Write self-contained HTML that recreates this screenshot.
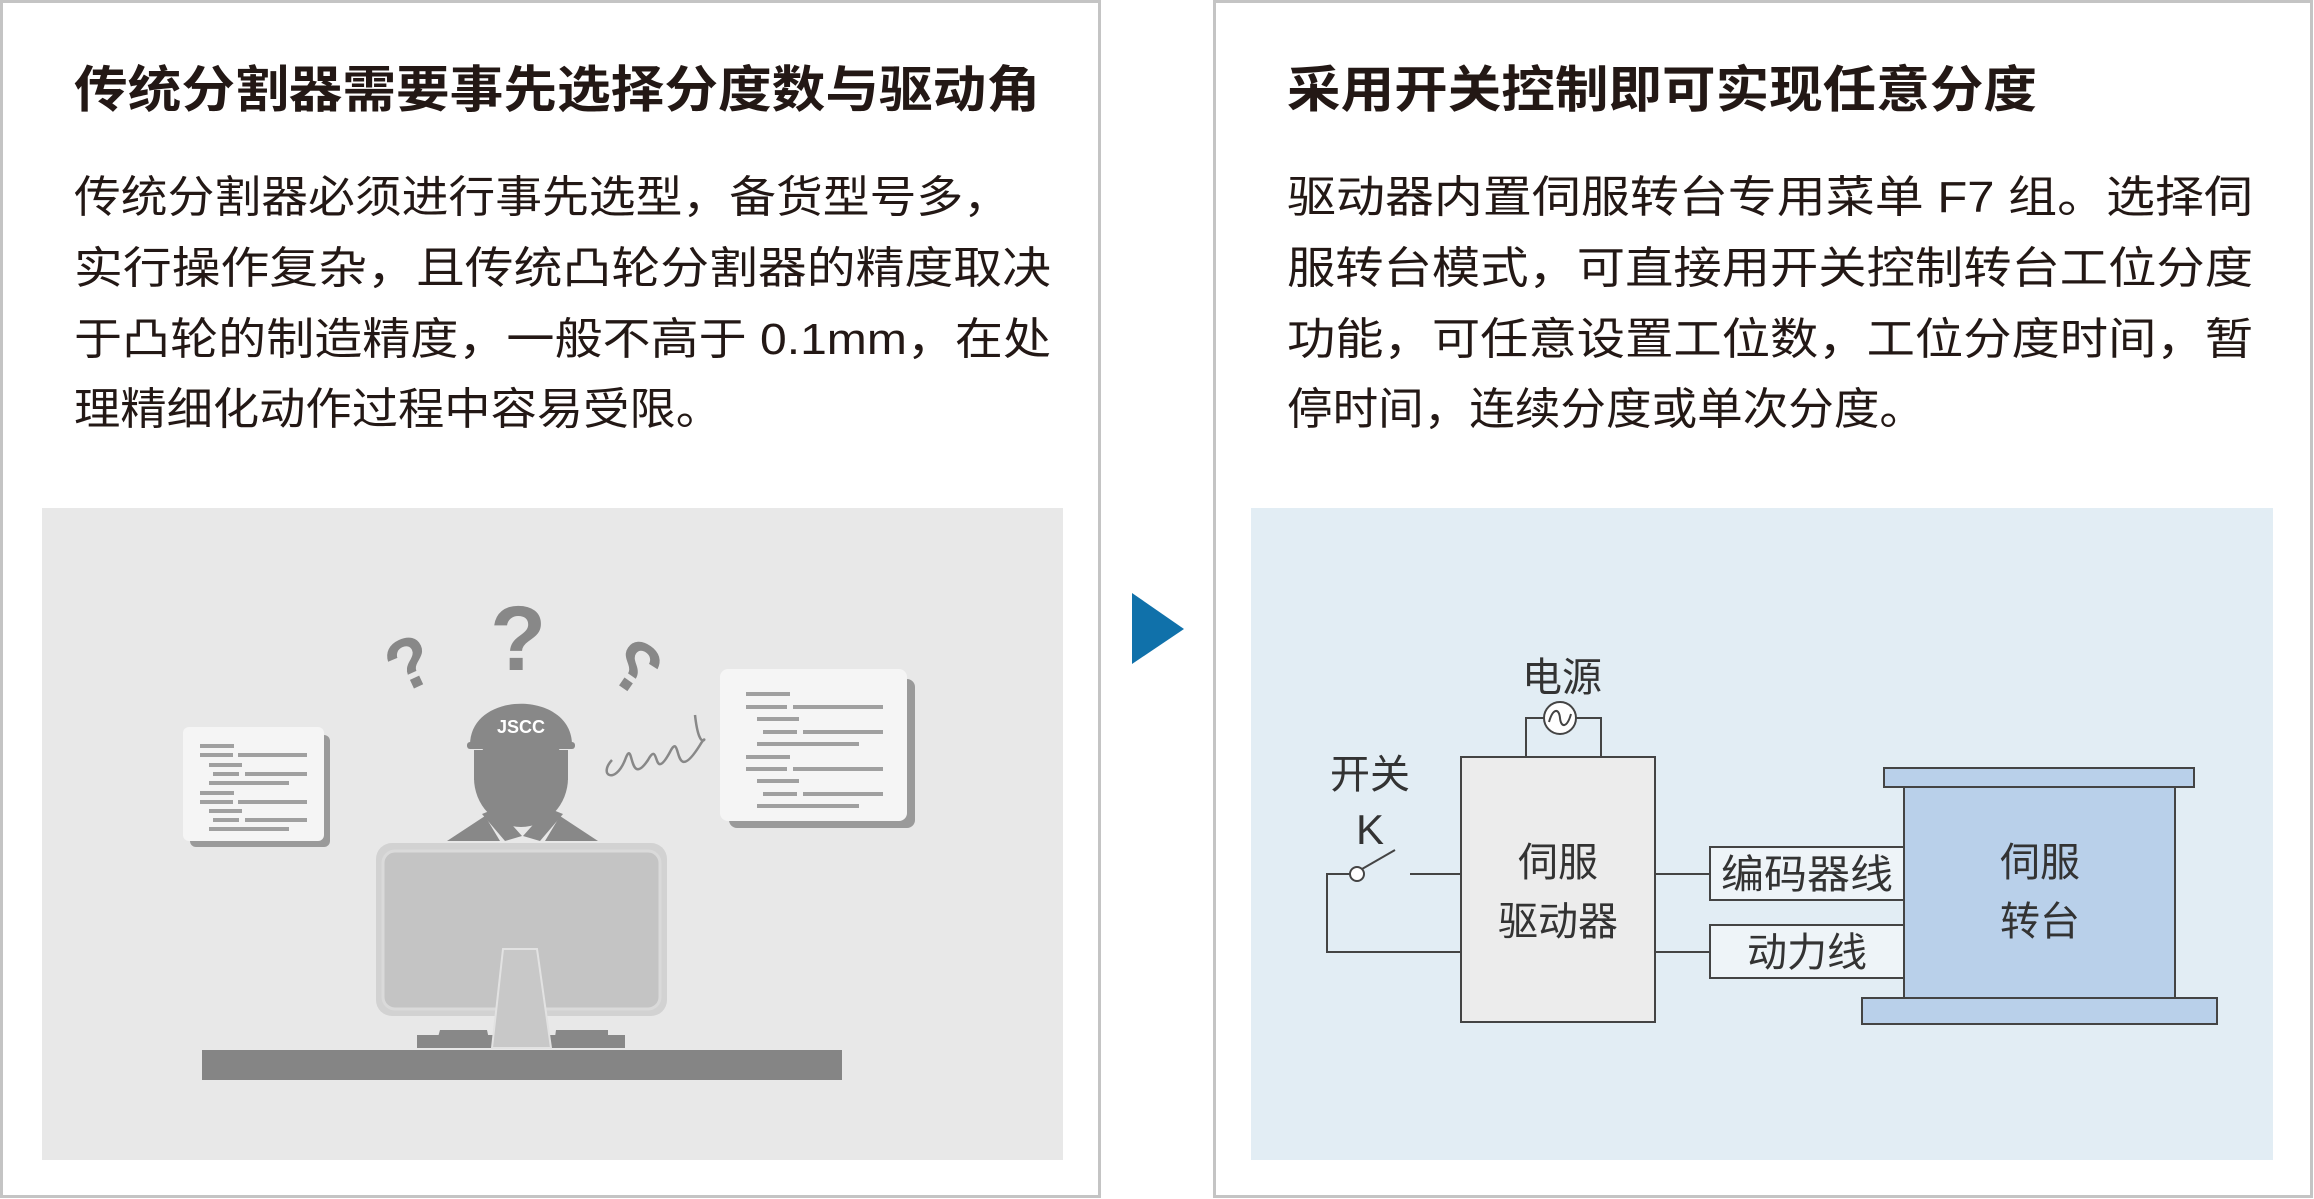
<!DOCTYPE html>
<html><head><meta charset="utf-8"><style>
html,body{margin:0;padding:0;background:#fff;}
svg{display:block;}
.t{font-family:"Liberation Sans","Noto Sans CJK SC",sans-serif;fill:#231815;}
</style></head><body>
<svg width="2314" height="1199" viewBox="0 0 2314 1199" xmlns="http://www.w3.org/2000/svg">
<rect x="1.5" y="1.5" width="1098" height="1195" fill="#fff" stroke="#c4c4c4" stroke-width="3"/>
<rect x="1214.5" y="1.5" width="1097" height="1195" fill="#fff" stroke="#c4c4c4" stroke-width="3"/>

<g class="t">
<text x="74" y="107" font-size="50" font-weight="bold" textLength="966" lengthAdjust="spacingAndGlyphs">传统分割器需要事先选择分度数与驱动角</text>
<text x="74" y="212" font-size="44" textLength="936" lengthAdjust="spacingAndGlyphs">传统分割器必须进行事先选型，备货型号多，</text>
<text x="74" y="283" font-size="44" textLength="977" lengthAdjust="spacingAndGlyphs">实行操作复杂，且传统凸轮分割器的精度取决</text>
<text x="74" y="354" font-size="44" textLength="977" lengthAdjust="spacingAndGlyphs">于凸轮的制造精度，一般不高于 0.1mm，在处</text>
<text x="74" y="424" font-size="44" textLength="648" lengthAdjust="spacingAndGlyphs">理精细化动作过程中容易受限。</text>

<text x="1287" y="107" font-size="50" font-weight="bold" textLength="750" lengthAdjust="spacingAndGlyphs">采用开关控制即可实现任意分度</text>
<text x="1287" y="212" font-size="44" textLength="966" lengthAdjust="spacingAndGlyphs">驱动器内置伺服转台专用菜单 F7 组。选择伺</text>
<text x="1287" y="283" font-size="44" textLength="966" lengthAdjust="spacingAndGlyphs">服转台模式，可直接用开关控制转台工位分度</text>
<text x="1287" y="354" font-size="44" textLength="966" lengthAdjust="spacingAndGlyphs">功能，可任意设置工位数，工位分度时间，暂</text>
<text x="1287" y="424" font-size="44" textLength="638" lengthAdjust="spacingAndGlyphs">停时间，连续分度或单次分度。</text>
</g>

<polygon points="1132,593 1184,629 1132,664" fill="#1071aa"/>

<rect x="42" y="508" width="1021" height="652" fill="#e8e8e8"/>
<rect x="190" y="735" width="140" height="112" rx="6" fill="#9a9a9a"/>
<rect x="183" y="727" width="141" height="114" rx="6" fill="#f5f5f5"/>
<g fill="#a0a0a0">
<rect x="200" y="744" width="34" height="4"/><rect x="200" y="753" width="33" height="4"/><rect x="238" y="753" width="69" height="4"/>
<rect x="209" y="763" width="33" height="4"/><rect x="213" y="772" width="26" height="4"/><rect x="245" y="772" width="62" height="4"/>
<rect x="209" y="781" width="80" height="4"/><rect x="200" y="791" width="34" height="4"/><rect x="200" y="800" width="33" height="4"/><rect x="238" y="800" width="69" height="4"/>
<rect x="209" y="809" width="33" height="4"/><rect x="213" y="818" width="26" height="4"/><rect x="245" y="818" width="62" height="4"/><rect x="209" y="827" width="80" height="4"/>
</g>
<rect x="729" y="679" width="186" height="149" rx="8" fill="#9a9a9a"/>
<rect x="720" y="669" width="187" height="152" rx="8" fill="#f5f5f5"/>
<g fill="#a0a0a0">
<rect x="746" y="692" width="44" height="4"/><rect x="746" y="705" width="41" height="4"/><rect x="793" y="705" width="90" height="4"/>
<rect x="757" y="717" width="42" height="4"/><rect x="763" y="730" width="34" height="4"/><rect x="803" y="730" width="80" height="4"/>
<rect x="757" y="742" width="102" height="4"/><rect x="746" y="755" width="44" height="4"/><rect x="746" y="767" width="41" height="4"/><rect x="793" y="767" width="90" height="4"/>
<rect x="757" y="779" width="42" height="4"/><rect x="763" y="792" width="34" height="4"/><rect x="803" y="792" width="80" height="4"/><rect x="757" y="804" width="102" height="4"/>
</g>
<g fill="#888" font-family="Liberation Sans,sans-serif" font-weight="bold">
<text x="490" y="670" font-size="92">?</text>
<text x="0" y="0" font-size="72" transform="translate(400,695) rotate(-25)">?</text>
<text x="0" y="0" font-size="72" transform="translate(640,700) rotate(35) scale(-1,1)">?</text>
</g>
<path d="M612,760 C598,775 615,785 625,760 C634,735 628,790 648,760 C660,738 652,785 670,752 C682,728 672,790 700,745 C710,728 700,760 695,715" fill="none" stroke="#888" stroke-width="2.5"/>
<polygon points="447,841 485,816 500,841" fill="#888"/>
<polygon points="598,841 560,816 545,841" fill="#888"/>
<polygon points="482,814 497,808 522,836 505,841" fill="#888"/>
<polygon points="563,814 548,808 523,836 540,841" fill="#888"/>
<ellipse cx="521" cy="778" rx="47" ry="49" fill="#888"/>
<rect x="474" y="750" width="94" height="30" fill="#888"/>
<path d="M470,745 C470,690 572,690 572,745 Z" fill="#888"/>
<rect x="467" y="742" width="108" height="7" rx="3" fill="#888"/>
<text x="521" y="733" font-family="Liberation Sans,sans-serif" font-weight="bold" font-size="18" fill="#fff" text-anchor="middle">JSCC</text>
<rect x="376" y="843" width="291" height="173" rx="16" fill="#d2d2d2"/>
<rect x="383" y="851" width="277" height="158" rx="12" fill="#c4c4c4" stroke="#dadada" stroke-width="3"/>
<path d="M436,1044 L440,1030 L487,1030 L490,1044 Z" fill="#888"/>
<path d="M554,1044 L556,1030 L608,1030 L608,1044 Z" fill="#888"/>
<rect x="417" y="1035" width="208" height="13" fill="#888"/>
<polygon points="503,949 537,949 551,1048 492,1048" fill="#c8c8c8" stroke="#e2e2e2" stroke-width="2"/>
<rect x="202" y="1050" width="640" height="30" fill="#858585"/>

<rect x="1251" y="508" width="1022" height="652" fill="#e2edf4"/>
<g stroke="#444" stroke-width="2" fill="none">
<rect x="1461" y="757" width="194" height="265" fill="#ececec"/>
<polyline points="1526,757 1526,718 1545,718"/>
<polyline points="1576,718 1601,718 1601,757"/>
<circle cx="1560" cy="718" r="16" fill="#fff"/>
<polyline points="1461,952 1327,952 1327,874 1350,874"/>
<circle cx="1357" cy="874" r="7" fill="#fff"/>
<line x1="1362" y1="869" x2="1395" y2="850"/>
<line x1="1410" y1="874" x2="1461" y2="874"/>
<line x1="1655" y1="874" x2="1710" y2="874"/>
<line x1="1655" y1="952" x2="1710" y2="952"/>
<rect x="1710" y="847" width="194" height="53" fill="#eef4f8"/>
<rect x="1710" y="925" width="194" height="53" fill="#eef4f8"/>
<rect x="1884" y="768" width="310" height="19" fill="#b9d0ea"/>
<rect x="1904" y="787" width="271" height="211" fill="#b9d0ea"/>
<rect x="1862" y="998" width="355" height="26" fill="#b9d0ea"/>
</g>
<path d="M1549,722 C1553,708 1559,708 1560,718 C1561,728 1567,728 1571,714" fill="none" stroke="#444" stroke-width="2"/>
<g class="t" font-size="40" text-anchor="middle" style="fill:#333">
<text x="1562" y="691">电源</text>
<text x="1370" y="788">开关</text>
<text x="1370" y="844" font-size="42">K</text>
<text x="1558" y="876">伺服</text>
<text x="1558" y="935">驱动器</text>
<text x="1807" y="888" textLength="172" lengthAdjust="spacingAndGlyphs">编码器线</text>
<text x="1807" y="966">动力线</text>
<text x="2040" y="876">伺服</text>
<text x="2040" y="935">转台</text>
</g>
</svg>
</body></html>
